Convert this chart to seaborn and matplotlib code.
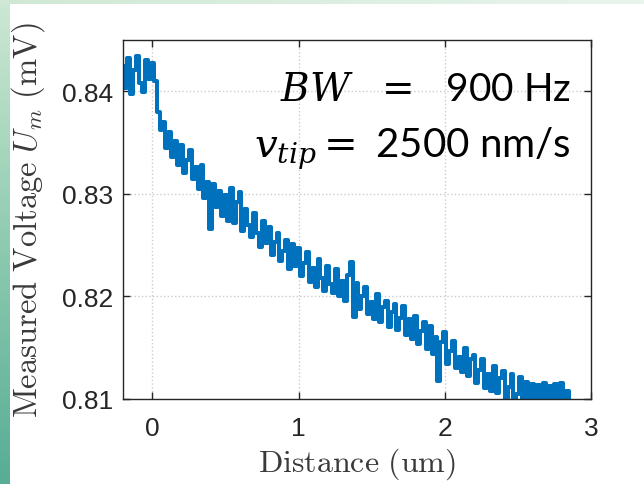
import numpy as np
import pandas as pd
import seaborn as sns
import matplotlib.pyplot as plt
from matplotlib.colors import LinearSegmentedColormap

# ------------------------------------------------------------
# Data (step 0.02 um from -0.2 um)
# ------------------------------------------------------------

start_um = -0.20
step_um = 0.02

voltage_mV = [
    0.8425, 0.8403, 0.8432, 0.8397, 0.8421, 0.8434, 0.8408, 0.8399, 0.8430, 0.8412,
    0.8428, 0.8410, 0.8380, 0.8362, 0.8370, 0.8345, 0.8360, 0.8336, 0.8352, 0.8328,
    0.8348, 0.8320, 0.8333, 0.8343, 0.8314, 0.8326, 0.8305, 0.8328, 0.8296, 0.8312,
    0.8266, 0.8310, 0.8287, 0.8303, 0.8278, 0.8299, 0.8274, 0.8306, 0.8272, 0.8292,
    0.8302, 0.8264, 0.8285, 0.8270, 0.8258, 0.8281, 0.8262, 0.8248, 0.8274, 0.8252,
    0.8268, 0.8240, 0.8253, 0.8262, 0.8235, 0.8244, 0.8255, 0.8227, 0.8251, 0.8230,
    0.8247, 0.8220, 0.8233, 0.8243, 0.8214, 0.8228, 0.8209, 0.8236, 0.8218, 0.8205,
    0.8230, 0.8212, 0.8203, 0.8227, 0.8200, 0.8215, 0.8196, 0.8221, 0.8234, 0.8180,
    0.8213, 0.8188, 0.8200, 0.8209, 0.8183, 0.8195, 0.8178, 0.8202, 0.8175, 0.8190,
    0.8196, 0.8170, 0.8185, 0.8193, 0.8167, 0.8179, 0.8191, 0.8162, 0.8178, 0.8158,
    0.8181, 0.8154, 0.8166, 0.8175, 0.8149, 0.8171, 0.8144, 0.8160, 0.8118, 0.8156,
    0.8165, 0.8134, 0.8147, 0.8157, 0.8130, 0.8141, 0.8126, 0.8150, 0.8122, 0.8139,
    0.8143, 0.8116, 0.8128, 0.8139, 0.8111, 0.8124, 0.8108, 0.8132, 0.8106, 0.8120,
    0.8127, 0.8099, 0.8112, 0.8124, 0.8092, 0.8105, 0.8121, 0.8090, 0.8117, 0.8093,
    0.8115, 0.8090, 0.8114, 0.8092, 0.8116, 0.8091, 0.8113, 0.8090, 0.8115, 0.8092,
    0.8116, 0.8091, 0.8108, 0.8096,
]

distance_um = np.round(start_um + step_um * np.arange(len(voltage_mV)), 2)

x_ticks = [0, 1, 2, 3]
y_ticks = [0.81, 0.82, 0.83, 0.84]

df = pd.DataFrame({"distance": distance_um, "voltage": voltage_mV})

# ------------------------------------------------------------
# Plot
# ------------------------------------------------------------

sns.set_style("ticks")
plt.rcParams["font.family"] = ["Liberation Sans", "DejaVu Sans"]

fig = plt.figure(figsize=(6.44, 4.85), dpi=100)
fig.patch.set_facecolor("white")

# slide background strips (left / top)
green = LinearSegmentedColormap.from_list("g", ["#cde8d4", "#8fcbb1", "#58ad95"])
bg_left = fig.add_axes([0, 0, 10 / 644, 1])
bg_left.imshow(np.linspace(0, 1, 100)[:, None], aspect="auto", cmap=green)
bg_left.axis("off")
light = LinearSegmentedColormap.from_list("l", ["#cfe8d5", "#e9f4ed"])
bg_top = fig.add_axes([0, 1 - 5 / 485, 1, 5 / 485])
bg_top.imshow(np.linspace(0, 1, 100)[None, :], aspect="auto", cmap=light)
bg_top.axis("off")

ax = fig.add_axes([0.191, 0.1753, 0.7267, 0.7402])

sns.lineplot(
    data=df, x="distance", y="voltage",
    estimator=None, sort=False,
    color="#0072BD", linewidth=2.9, drawstyle="steps-mid", ax=ax,
)

ax.set_xlim(-0.2, 3)
ax.set_ylim(0.81, 0.845)
ax.set_xticks(x_ticks)
ax.set_yticks(y_ticks)
ax.set_xticklabels([str(t) for t in x_ticks])
ax.set_yticklabels([f"{t:.2f}" for t in y_ticks])

ax.grid(True, linestyle=":", color="#cccccc", linewidth=1.0)
ax.set_axisbelow(True)

for s in ax.spines.values():
    s.set_visible(True)
    s.set_color("#262626")
    s.set_linewidth(1.0)

ax.tick_params(direction="in", length=5, width=1, top=True, right=True,
               colors="#262626", labelsize=19)
ax.tick_params(axis="x", pad=12)
ax.tick_params(axis="y", pad=7)

ax.set_xlabel(r"$\mathrm{Distance\ (um)}$", fontsize=23, color="#3a3a3a",
              math_fontfamily="cm")
ax.set_ylabel(r"$\mathrm{Measured\ Voltage\ }U_m\mathrm{\ (mV)}$", fontsize=23.5,
              color="#3a3a3a", math_fontfamily="cm")
ax.xaxis.set_label_coords(0.5, -0.13)
ax.yaxis.set_label_coords(-0.162, 0.5)

ax.text(0.957, 0.833, r"$BW\ \ =\ \ $900 Hz", transform=ax.transAxes,
        ha="right", va="baseline", fontsize=28, family=["Lato", "DejaVu Sans"],
        math_fontfamily="dejavuserif", color="black")
ax.text(0.957, 0.674, r"$v_{tip}=$ 2500 nm/s", transform=ax.transAxes,
        ha="right", va="baseline", fontsize=29, family=["Lato", "DejaVu Sans"],
        math_fontfamily="dejavuserif", color="black")

fig.savefig("out.png", dpi=100, facecolor="white")
